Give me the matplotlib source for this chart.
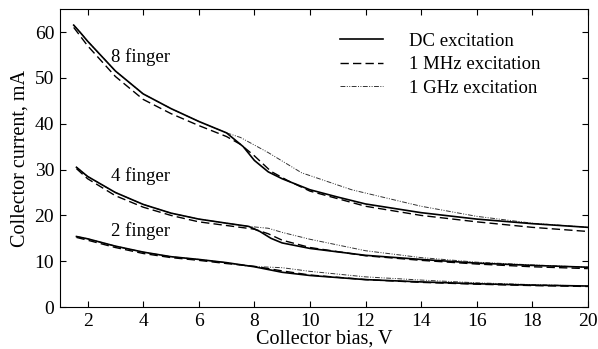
import matplotlib as mpl
mpl.use('Agg')
import matplotlib.pyplot as plt
from matplotlib.lines import Line2D
import numpy as np

# collector bias (V) and collector current (mA)
x8_dc = [1.5, 1.75, 2, 3, 4, 5, 6, 7, 7.6, 8, 8.5, 9, 10, 11, 12, 14, 16, 18, 20]
y8_dc = [61.5, 59.8, 58, 51.5, 46.5, 43.3, 40.5, 38, 35, 32, 29.5, 28, 25.6, 24, 22.5, 20.6, 19.2, 18.2, 17.4]
x8_mhz = [1.5, 2, 3, 4, 5, 6, 7, 7.5, 8, 8.6, 9.2, 10, 12, 14, 16, 18, 20]
y8_mhz = [61, 57, 50.3, 45.3, 42.2, 39.6, 37.2, 35.5, 33, 29.6, 27.6, 25.3, 22, 20, 18.6, 17.4, 16.5]
x8_ghz = [1.5, 1.75, 2, 3, 4, 5, 6, 7, 7.5, 8.5, 9.7, 11.5, 13.3, 14, 16, 18, 20]
y8_ghz = [61.5, 59.8, 58, 51.5, 46.5, 43.3, 40.5, 38, 37, 33.7, 29.3, 25.6, 23, 22, 19.8, 18.3, 17.4]

x4_dc = [1.6, 2, 3, 4, 5, 6, 7, 7.8, 8.2, 8.6, 9, 10, 12, 14, 16, 18, 20]
y4_dc = [30.5, 28.5, 25, 22.4, 20.5, 19.2, 18.3, 17.6, 16.5, 15, 14, 12.8, 11.3, 10.4, 9.6, 9.1, 8.7]
x4_mhz = [1.6, 2, 3, 4, 5, 6, 7, 8, 8.5, 9, 10, 12, 14, 16, 18, 20]
y4_mhz = [30.2, 28, 24.3, 21.8, 20, 18.6, 17.8, 17.0, 16.0, 14.6, 13, 11.2, 10.2, 9.4, 8.8, 8.4]
x4_ghz = [1.6, 2, 3, 4, 5, 6, 7, 7.8, 8.5, 9, 10, 12, 14, 16, 18, 20]
y4_ghz = [30.5, 28.5, 25, 22.4, 20.5, 19.2, 18.3, 17.6, 17.2, 16.3, 14.8, 12.3, 10.8, 9.8, 9.2, 8.7]

x2_dc = [1.6, 2, 3, 4, 5, 6, 7, 8, 9, 10, 12, 14, 16, 18, 20]
y2_dc = [15.4, 14.9, 13.3, 12.0, 11.0, 10.4, 9.7, 8.8, 7.6, 6.9, 6.0, 5.5, 5.1, 4.8, 4.6]
y2_mhz = [15.2, 14.6, 13.0, 11.7, 10.8, 10.2, 9.5, 8.9, 7.9, 7.0, 6.0, 5.4, 5.0, 4.7, 4.5]
x2_ghz = [1.6, 2, 3, 4, 5, 6, 7, 7.8, 9, 10, 12, 14, 16, 18, 20]
y2_ghz = [15.4, 14.9, 13.3, 12.0, 11.0, 10.4, 9.7, 8.9, 8.6, 7.8, 6.6, 5.9, 5.3, 4.9, 4.6]

labels = ['DC excitation', '1 MHz excitation', '1 GHz excitation']
finger_labels = ['8 finger', '4 finger', '2 finger']
finger_pos = [(2.83, 53.4), (2.83, 27.4), (2.83, 15.5)]

plt.rcParams['font.family'] = ['Liberation Serif', 'DejaVu Serif']

fig = plt.figure(figsize=(5.98, 3.49), dpi=100)
ax = fig.add_axes([0.1, 0.12, 0.883, 0.854])

dc_kw = dict(color='black', lw=1.2, ls='-')
mhz_kw = dict(color='black', lw=1.0, ls=(0, (6, 3)))
ghz_kw = dict(color='#333333', lw=0.7, ls=(0, (5, 1.5, 1, 1.5, 1, 1.5)))

ax.plot(x8_ghz, y8_ghz, **ghz_kw)
ax.plot(x4_ghz, y4_ghz, **ghz_kw)
ax.plot(x2_ghz, y2_ghz, **ghz_kw)
ax.plot(x8_mhz, y8_mhz, **mhz_kw)
ax.plot(x4_mhz, y4_mhz, **mhz_kw)
ax.plot(x2_dc, y2_mhz, **mhz_kw)
ax.plot(x8_dc, y8_dc, **dc_kw)
ax.plot(x4_dc, y4_dc, **dc_kw)
ax.plot(x2_dc, y2_dc, **dc_kw)

handles = [Line2D([], [], **dc_kw), Line2D([], [], **mhz_kw), Line2D([], [], **ghz_kw)]
ax.legend(handles, labels, loc='upper left', bbox_to_anchor=(0.53, 0.92),
          frameon=False, fontsize=13.5, handlelength=2.3, handletextpad=1.4,
          labelspacing=0.33, borderpad=0, borderaxespad=0)

for t, (px, py) in zip(finger_labels, finger_pos):
    ax.text(px, py, t, fontsize=13.5)

ax.set_xlim(1, 20)
ax.set_ylim(0, 65)
ax.set_xticks(np.arange(2, 21, 2))
ax.set_yticks(np.arange(0, 61, 10))
ax.tick_params(direction='in', top=True, right=True, labelsize=14, length=4, pad=4)
ax.set_xlabel('Collector bias, V', fontsize=14.5, labelpad=0)
ax.set_ylabel('Collector current, mA', fontsize=14.5, labelpad=4)

fig.savefig('out.png', dpi=100)
